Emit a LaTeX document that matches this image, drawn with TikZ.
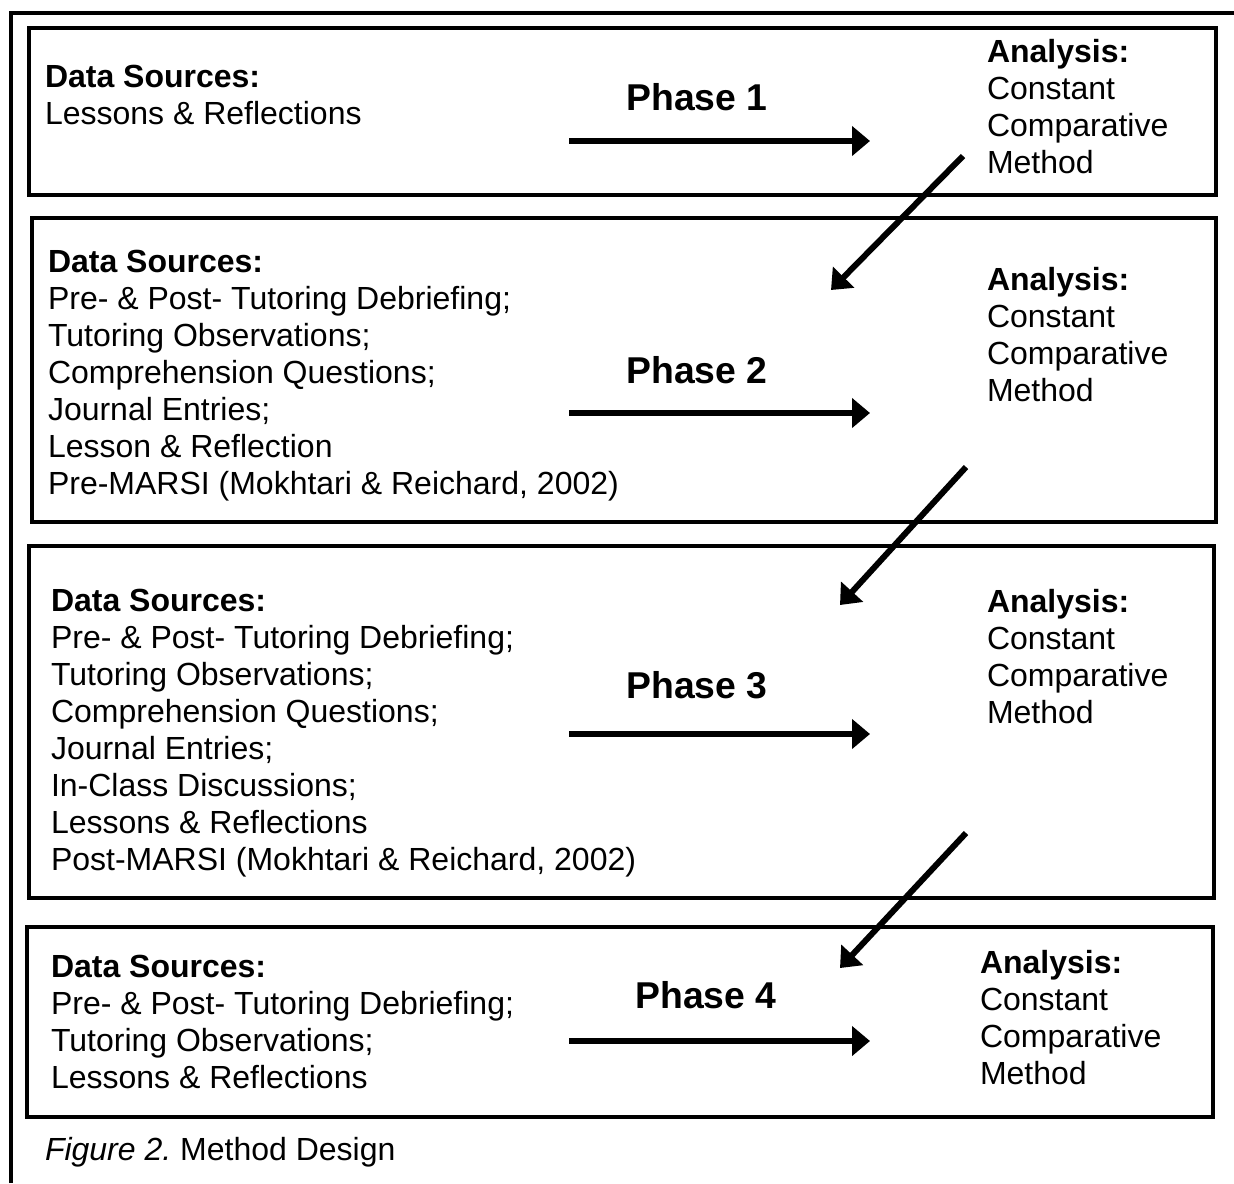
\documentclass[tikz,border=0pt]{standalone}
\usepackage{fontspec}
\setmainfont{Liberation Sans}
\usetikzlibrary{arrows.meta}
\tikzstyle{every node}=[inner sep=0pt,outer sep=0pt]
\tikzstyle{frame}=[line width=3pt]
\tikzstyle{txt}=[anchor=base west,font=\fontsize{24}{27.75}\selectfont]
\tikzstyle{phaselabel}=[anchor=base,font=\fontsize{28}{32}\selectfont\bfseries]
\tikzstyle{flow}=[line width=4.5pt,-{Triangle[length=13.5pt,width=21.75pt]}]
\newcommand{\srclist}[1]{\begin{tabular}[t]{@{}l@{}}\textbf{Data Sources:}\\#1\end{tabular}}
\newcommand{\ccmethod}{\begin{tabular}[t]{@{}l@{}}\textbf{Analysis:}\\Constant\\Comparative\\Method\end{tabular}}

\begin{document}
\begin{tikzpicture}[x=0.75pt,y=-0.75pt]
	\useasboundingbox (0,0) rectangle (1234,1183);
	% outer frame, open to the right and below
	\draw[frame] (10.5,1183) -- (10.5,13) -- (1234,13);
	% one box per phase
	\draw[frame] (29,28) rectangle (1216,195);
	\draw[frame] (32,218) rectangle (1216,522);
	\draw[frame] (29,546) rectangle (1214,898);
	\draw[frame] (27,927) rectangle (1213,1117);

	% phase 1
	\node[txt] (src1) at (45,87) {\srclist{Lessons \& Reflections}};
	\node[phaselabel] (ph1) at (697,110) {Phase 1};
	\node[txt] (ana1) at (987,62) {\ccmethod};
	\coordinate (h1a) at (569,141);
	\coordinate (h1b) at (870,141);
	\draw[flow] (h1a) -- (h1b);

	% phase 2
	\node[txt] (src2) at (48,272) {\srclist{Pre- \& Post- Tutoring Debriefing;\\Tutoring Observations;\\Comprehension Questions;\\Journal Entries;\\Lesson \& Reflection\\Pre-MARSI (Mokhtari \& Reichard, 2002)}};
	\node[phaselabel] (ph2) at (697,383) {Phase 2};
	\node[txt] (ana2) at (987,290) {\ccmethod};
	\coordinate (h2a) at (569,413);
	\coordinate (h2b) at (870,413);
	\draw[flow] (h2a) -- (h2b);

	% phase 3
	\node[txt] (src3) at (51,611) {\srclist{Pre- \& Post- Tutoring Debriefing;\\Tutoring Observations;\\Comprehension Questions;\\Journal Entries;\\In-Class Discussions;\\Lessons \& Reflections\\Post-MARSI (Mokhtari \& Reichard, 2002)}};
	\node[phaselabel] (ph3) at (697,698) {Phase 3};
	\node[txt] (ana3) at (987,612) {\ccmethod};
	\coordinate (h3a) at (569,734);
	\coordinate (h3b) at (870,734);
	\draw[flow] (h3a) -- (h3b);

	% phase 4
	\node[txt] (src4) at (51,977) {\srclist{Pre- \& Post- Tutoring Debriefing;\\Tutoring Observations;\\Lessons \& Reflections}};
	\node[phaselabel] (ph4) at (706,1008) {Phase 4};
	\node[txt] (ana4) at (980,973) {\ccmethod};
	\coordinate (h4a) at (569,1041);
	\coordinate (h4b) at (870,1041);
	\draw[flow] (h4a) -- (h4b);

	% hand-over from one phase to the next
	\coordinate (d1a) at (963,156);
	\coordinate (d1b) at (831,290);
	\coordinate (d2a) at (966,467);
	\coordinate (d2b) at (840,605);
	\coordinate (d3a) at (966,833);
	\coordinate (d3b) at (840,968);
	\draw[flow] (d1a) -- (d1b);
	\draw[flow] (d2a) -- (d2b);
	\draw[flow] (d3a) -- (d3b);

	\node[txt] (caption) at (45,1160) {\textit{Figure 2.}\ Method Design};
\end{tikzpicture}
\end{document}
